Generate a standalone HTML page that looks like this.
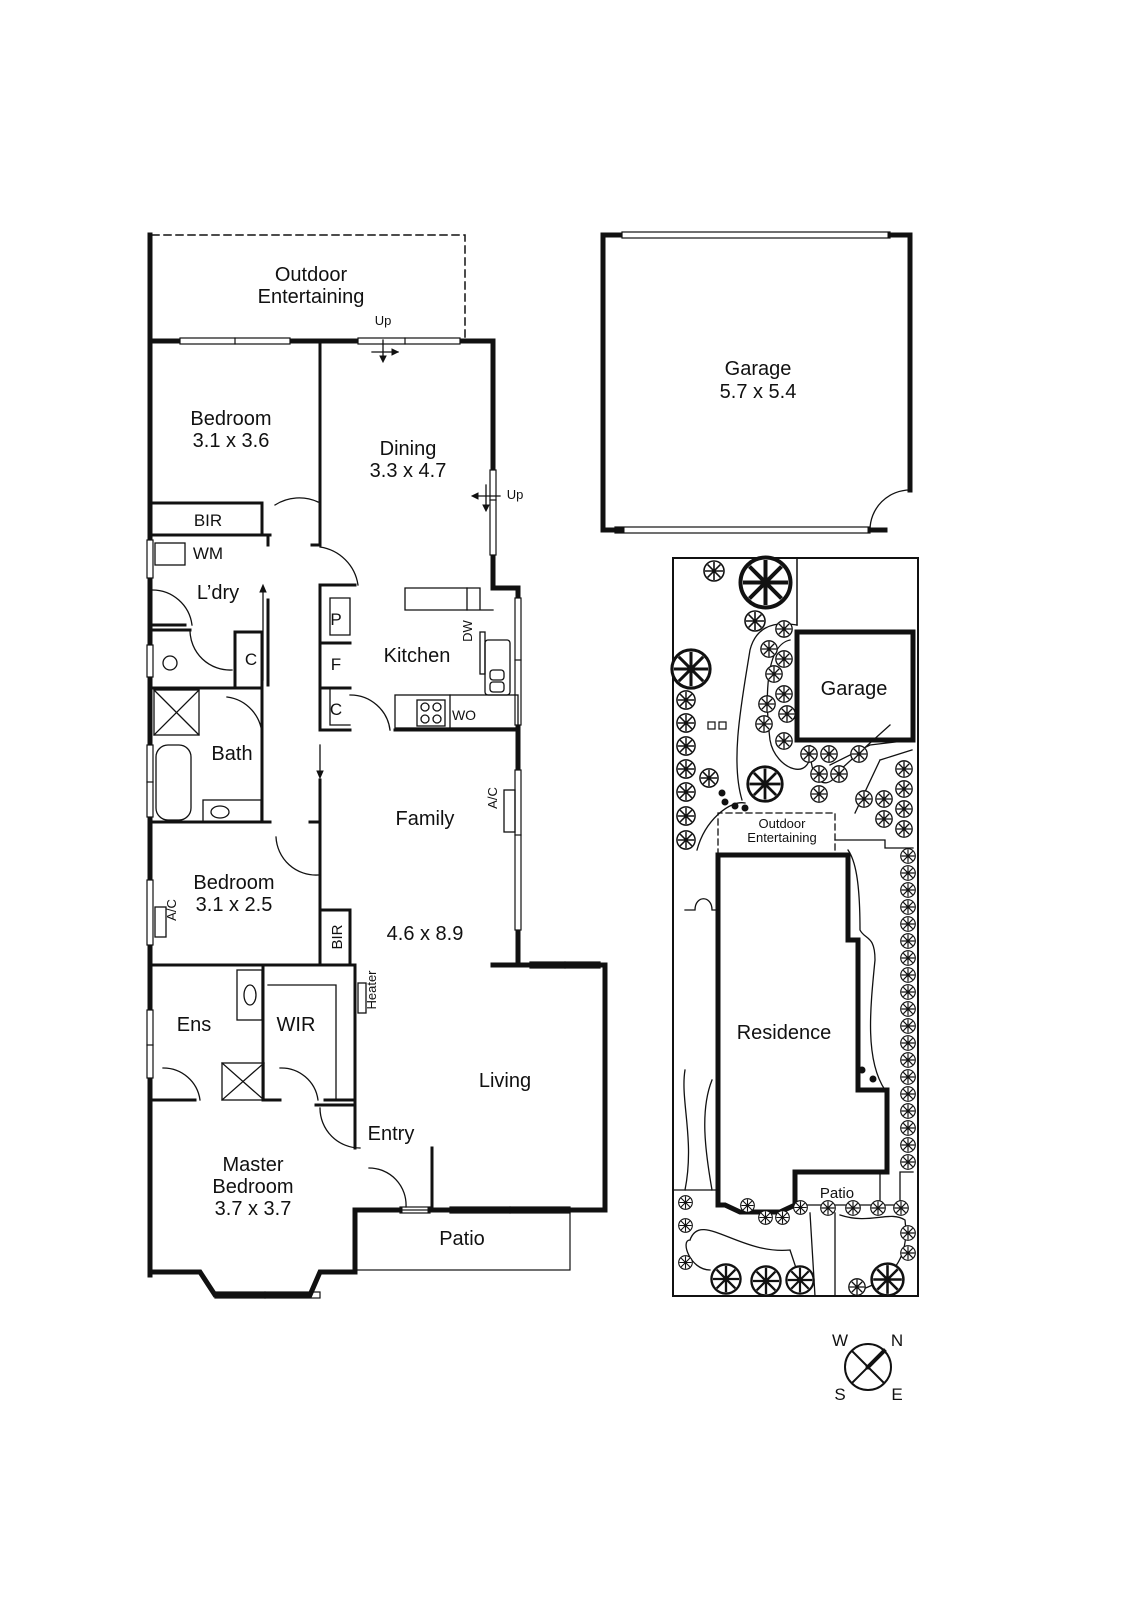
<!DOCTYPE html>
<html><head><meta charset="utf-8"><style>
html,body{margin:0;padding:0;background:#fff;}
svg{display:block}
text{font-family:"Liberation Sans",Arial,sans-serif;fill:#111}
</style></head><body>
<svg width="1131" height="1600" viewBox="0 0 1131 1600" xmlns="http://www.w3.org/2000/svg">
<defs>
<symbol id="t" viewBox="-11 -11 22 22" overflow="visible">
<circle r="10" fill="#fff" stroke="#111" stroke-width="1.6"/>
<path d="M-9 0H9M0-9V9M-6.4-6.4L6.4 6.4M-6.4 6.4L6.4-6.4" stroke="#111" stroke-width="1.6"/>
</symbol>
</defs>
<g fill="none" stroke="#111" stroke-linecap="square">
<!-- outdoor entertaining -->
<line x1="150" y1="235" x2="150" y2="1275" stroke-width="5"/>
<path d="M152 235H465V338" stroke-width="1.5" stroke-dasharray="7,5"/>
<!-- top wall -->
<path d="M150 341H493V588H518V965" stroke-width="5"/>
<!-- windows top -->
<g stroke-width="1.2" fill="#fff">
<rect x="180" y="338" width="110" height="6"/><line x1="235" y1="338" x2="235" y2="344"/>
<rect x="358" y="338" width="102" height="6"/><line x1="405" y1="338" x2="405" y2="344"/>
<rect x="490" y="470" width="6" height="85"/><line x1="490" y1="500" x2="496" y2="500"/>
<rect x="515" y="598" width="6" height="127"/><line x1="515" y1="660" x2="521" y2="660"/>
<rect x="515" y="770" width="6" height="160"/><line x1="515" y1="835" x2="521" y2="835"/>
<rect x="530" y="962" width="70" height="6"/><line x1="565" y1="962" x2="565" y2="968"/>
<rect x="450" y="1207" width="120" height="6"/><line x1="510" y1="1207" x2="510" y2="1213"/>
<rect x="400" y="1207" width="30" height="6"/>
<rect x="147" y="540" width="6" height="38"/>
<rect x="147" y="645" width="6" height="32"/>
<rect x="147" y="745" width="6" height="72"/><line x1="147" y1="782" x2="153" y2="782"/>
<rect x="147" y="880" width="6" height="65"/>
<rect x="147" y="1010" width="6" height="68"/><line x1="147" y1="1045" x2="153" y2="1045"/>
<rect x="215" y="1292" width="105" height="6"/><line x1="265" y1="1292" x2="265" y2="1298"/>
</g>
<!-- living outer -->
<path d="M493 965H605V1210H430" stroke-width="5"/>
<line x1="432" y1="1148" x2="432" y2="1210" stroke-width="3"/>
<path d="M400 1210H355V1272H320L310 1295H215L200 1272H150" stroke-width="5"/>
<rect x="355" y="1210" width="215" height="60" stroke-width="1.2"/>
<!-- interior walls -->
<g stroke-width="3">
<line x1="320" y1="343" x2="320" y2="545"/>
<path d="M152 503H262V535M152 535H270"/>
<line x1="268" y1="535" x2="268" y2="545"/>
<path d="M312 545H320V515"/>
<line x1="268" y1="600" x2="268" y2="685"/>
<path d="M152 625H185M152 630H190M235 688V632H262M262 632V688"/>
<path d="M152 688H262M262 688V700"/>
<path d="M152 822H270M262 688V822"/>
<path d="M310 822H320V780"/>
<line x1="320" y1="585" x2="320" y2="730"/>
<path d="M320 585H355M320 643H350M320 688H350M320 730H350"/>
<path d="M395 730H518"/>
<line x1="320" y1="780" x2="320" y2="965"/>
<path d="M320 910H350V965"/>
<path d="M150 965H355M355 965V1105M263 965V1100M150 1100H195M263 1100H280M325 1100H355M355 1148V1105M316 1105H355"/>
<path d="M493 965H518"/>
</g>
<g stroke-width="1.3">
<path d="M330 598V635H350V598ZM330 688V725H350"/>
<!-- arcs doors -->
<path d="M275 505A45 45 0 0 1 318 502M320 547A45 45 0 0 1 358 585"/>
<path d="M152 590A40 40 0 0 1 192 625M190 630A40 40 0 0 0 232 670"/>
<path d="M227 697A40 40 0 0 1 262 737M276 837A40 40 0 0 0 318 875"/>
<path d="M350 695A40 40 0 0 1 390 730"/>
<path d="M163 1068A37 37 0 0 1 200 1100M280 1068A37 37 0 0 1 318 1100"/>
<path d="M320 1108A40 40 0 0 0 360 1148M369 1168A37 37 0 0 1 406 1207"/>
<path d="M405 588H480V610H405ZM480 610H493"/>
<path d="M467 588V610"/>
<!-- laundry WM -->
<rect x="155" y="543" width="30" height="22"/>
<circle cx="170" cy="663" r="7"/>
<rect x="154" y="690" width="45" height="45"/><path d="M154 690L199 735M199 690L154 735"/>
<rect x="156" y="745" width="35" height="75" rx="12"/>
<rect x="203" y="800" width="58" height="22"/><ellipse cx="220" cy="812" rx="9" ry="6"/>
<rect x="237" y="970" width="25" height="50"/><ellipse cx="250" cy="995" rx="6" ry="10"/>
<rect x="222" y="1063" width="42" height="37"/><path d="M222 1063L264 1100M264 1063L222 1100"/>
<path d="M268 985H336V1100"/>
<rect x="395" y="695" width="123" height="33"/><line x1="450" y1="695" x2="450" y2="728"/>
<rect x="417" y="700" width="28" height="26"/>
<circle cx="425" cy="707" r="4"/><circle cx="437" cy="707" r="4"/><circle cx="425" cy="719" r="4"/><circle cx="437" cy="719" r="4"/>
<rect x="485" y="640" width="25" height="55" rx="3"/>
<rect x="490" y="670" width="14" height="10" rx="3"/><rect x="490" y="682" width="14" height="10" rx="3"/>
<rect x="480" y="632" width="5" height="42"/>
<rect x="504" y="790" width="11" height="42"/>
<rect x="155" y="907" width="11" height="30"/>
<rect x="358" y="983" width="8" height="30"/>
<!-- arrows -->
<path d="M372 352H398M383 340V360M476 496H500M486 485V510M263 588V680M320 745V775"/>
</g>
<g fill="#111">
<path d="M398 352l-6-3v6zM383 362l-3-6h6zM472 496l6-3v6zM486 511l-3-6h6zM263 585l-3 7h6zM320 778l-3-7h6z"/>
</g>
<!-- garage -->
<path d="M620 235H603V530H622M885 530H870M910 490V235H890" stroke-width="5"/>
<rect x="622" y="232" width="268" height="6" stroke-width="1.2"/>
<rect x="615" y="527" width="255" height="6" stroke-width="1.2"/>
<path d="M870 530A40 40 0 0 1 910 490" stroke-width="1.3"/>
<!-- site -->
<rect x="673" y="558" width="245" height="738" stroke-width="2"/>
<path d="M797 558V625M797 632H913V740H797Z" stroke-width="1.5"/>
<rect x="797" y="632" width="116" height="108" stroke-width="5"/>
<path d="M718 855H848V940H858V1090H887V1172H795V1205L780 1212H740L725 1205H718Z" stroke-width="5"/>
<path d="M718 855V813H835V855" stroke-width="1.3" stroke-dasharray="6,4"/>
<g stroke-width="1.3">
<path d="M797 625C770 620 755 630 750 650C742 700 730 760 742 800"/>
<path d="M790 640C765 645 765 700 770 740C775 770 815 785 810 745C810 790 830 790 840 770L890 725M830 765L870 745L912 740"/>
<path d="M745 803C730 800 705 820 697 850M855 813L880 760M880 760L912 750"/>
<path d="M835 840H885V848H913M685 910H695C695 895 712 895 712 910H718"/>
<path d="M848 850C855 860 860 880 860 930C865 940 875 935 875 960C870 1010 865 1060 885 1090"/>
<path d="M685 1070C680 1100 695 1140 685 1190M712 1080C700 1110 705 1150 712 1190"/>
<path d="M673 1190H718M795 1205H900V1172H913M880 1172V1205"/>
<path d="M810 1213L815 1296M835 1213V1296M690 1240C700 1210 740 1255 790 1250L800 1280M710 1270C690 1270 680 1240 690 1240"/>
<path d="M840 1215C870 1225 890 1210 905 1220C910 1260 890 1280 860 1290"/>
</g>
<!-- compass -->
<circle cx="868" cy="1367" r="23" stroke-width="2"/>
<path d="M852 1351L884 1383M852 1383L884 1351" stroke-width="2"/>
<path d="M868 1367L884 1351" stroke-width="4"/>
</g>
<!-- trees -->
<g>
<use href="#t" x="703" y="560" width="22" height="22"/>
<use href="#t" x="738" y="555" width="55" height="55"/>
<use href="#t" x="744" y="610" width="22" height="22"/>
<use href="#t" x="670" y="648" width="42" height="42"/>
<use href="#t" x="676" y="690" width="20" height="20"/>
<use href="#t" x="676" y="713" width="20" height="20"/>
<use href="#t" x="676" y="736" width="20" height="20"/>
<use href="#t" x="676" y="759" width="20" height="20"/>
<use href="#t" x="676" y="782" width="20" height="20"/>
<use href="#t" x="676" y="806" width="20" height="20"/>
<use href="#t" x="676" y="830" width="20" height="20"/>
<use href="#t" x="699" y="768" width="20" height="20"/>
<use href="#t" x="746" y="765" width="38" height="38"/>
<g>
<use href="#t" x="775" y="620" width="18" height="18"/>
<use href="#t" x="760" y="640" width="18" height="18"/>
<use href="#t" x="775" y="650" width="18" height="18"/>
<use href="#t" x="765" y="665" width="18" height="18"/>
<use href="#t" x="775" y="685" width="18" height="18"/>
<use href="#t" x="758" y="695" width="18" height="18"/>
<use href="#t" x="778" y="705" width="18" height="18"/>
<use href="#t" x="755" y="715" width="18" height="18"/>
<use href="#t" x="775" y="732" width="18" height="18"/>
<use href="#t" x="800" y="745" width="18" height="18"/>
<use href="#t" x="820" y="745" width="18" height="18"/>
<use href="#t" x="850" y="745" width="18" height="18"/>
<use href="#t" x="810" y="765" width="18" height="18"/>
<use href="#t" x="830" y="765" width="18" height="18"/>
<use href="#t" x="810" y="785" width="18" height="18"/>
<use href="#t" x="855" y="790" width="18" height="18"/>
<use href="#t" x="875" y="790" width="18" height="18"/>
<use href="#t" x="875" y="810" width="18" height="18"/>
<use href="#t" x="895" y="760" width="18" height="18"/>
<use href="#t" x="895" y="780" width="18" height="18"/>
<use href="#t" x="895" y="800" width="18" height="18"/>
<use href="#t" x="895" y="820" width="18" height="18"/>
</g>
<g>
<use href="#t" x="900" y="848" width="16" height="16"/><use href="#t" x="900" y="865" width="16" height="16"/>
<use href="#t" x="900" y="882" width="16" height="16"/><use href="#t" x="900" y="899" width="16" height="16"/>
<use href="#t" x="900" y="916" width="16" height="16"/><use href="#t" x="900" y="933" width="16" height="16"/>
<use href="#t" x="900" y="950" width="16" height="16"/><use href="#t" x="900" y="967" width="16" height="16"/>
<use href="#t" x="900" y="984" width="16" height="16"/><use href="#t" x="900" y="1001" width="16" height="16"/>
<use href="#t" x="900" y="1018" width="16" height="16"/><use href="#t" x="900" y="1035" width="16" height="16"/>
<use href="#t" x="900" y="1052" width="16" height="16"/><use href="#t" x="900" y="1069" width="16" height="16"/>
<use href="#t" x="900" y="1086" width="16" height="16"/><use href="#t" x="900" y="1103" width="16" height="16"/>
<use href="#t" x="900" y="1120" width="16" height="16"/><use href="#t" x="900" y="1137" width="16" height="16"/>
<use href="#t" x="900" y="1154" width="16" height="16"/>
</g>
<g>
<use href="#t" x="678" y="1195" width="15" height="15"/><use href="#t" x="678" y="1218" width="15" height="15"/>
<use href="#t" x="678" y="1255" width="15" height="15"/>
<use href="#t" x="740" y="1198" width="15" height="15"/><use href="#t" x="758" y="1210" width="15" height="15"/>
<use href="#t" x="775" y="1210" width="15" height="15"/><use href="#t" x="793" y="1200" width="15" height="15"/>
<use href="#t" x="820" y="1200" width="16" height="16"/><use href="#t" x="845" y="1200" width="16" height="16"/>
<use href="#t" x="870" y="1200" width="16" height="16"/><use href="#t" x="893" y="1200" width="16" height="16"/>
<use href="#t" x="900" y="1225" width="16" height="16"/><use href="#t" x="900" y="1245" width="16" height="16"/>
<use href="#t" x="710" y="1263" width="32" height="32"/><use href="#t" x="750" y="1265" width="32" height="32"/>
<use href="#t" x="785" y="1265" width="30" height="30"/><use href="#t" x="870" y="1262" width="35" height="35"/>
<use href="#t" x="848" y="1278" width="18" height="18"/>
</g>
<rect x="708" y="722" width="7" height="7" fill="#fff" stroke="#111" stroke-width="1.2"/>
<rect x="719" y="722" width="7" height="7" fill="#fff" stroke="#111" stroke-width="1.2"/>
<circle cx="725" cy="802" r="3.5" fill="#111"/><circle cx="735" cy="806" r="3.5" fill="#111"/>
<circle cx="745" cy="808" r="3.5" fill="#111"/><circle cx="722" cy="793" r="3.5" fill="#111"/>
<circle cx="862" cy="1070" r="3.5" fill="#111"/><circle cx="873" cy="1079" r="3.5" fill="#111"/>
</g>
<!-- labels -->
<g font-size="20" text-anchor="middle">
<text x="311" y="281">Outdoor</text><text x="311" y="303">Entertaining</text>
<text x="231" y="425">Bedroom</text><text x="231" y="447">3.1 x 3.6</text>
<text x="408" y="455">Dining</text><text x="408" y="477">3.3 x 4.7</text>
<text x="208" y="526" font-size="17">BIR</text>
<text x="208" y="559" font-size="17">WM</text>
<text x="218" y="599">L’dry</text>
<text x="417" y="662">Kitchen</text>
<text x="336" y="625" font-size="17">P</text>
<text x="336" y="670" font-size="17">F</text>
<text x="336" y="715" font-size="17">C</text>
<text x="251" y="665" font-size="17">C</text>
<text x="232" y="760">Bath</text>
<text x="425" y="825">Family</text>
<text x="234" y="889">Bedroom</text><text x="234" y="911">3.1 x 2.5</text>
<text x="425" y="940">4.6 x 8.9</text>
<text x="194" y="1031">Ens</text>
<text x="296" y="1031">WIR</text>
<text x="505" y="1087">Living</text>
<text x="391" y="1140">Entry</text>
<text x="253" y="1171">Master</text><text x="253" y="1193">Bedroom</text><text x="253" y="1215">3.7 x 3.7</text>
<text x="462" y="1245">Patio</text>
<text x="758" y="375">Garage</text><text x="758" y="398">5.7 x 5.4</text>
<text x="854" y="695">Garage</text>
<text x="784" y="1039">Residence</text>
<text x="837" y="1198" font-size="15">Patio</text>
<text x="782" y="828" font-size="13">Outdoor</text><text x="782" y="842" font-size="13">Entertaining</text>
<text x="464" y="720" font-size="14">WO</text>
<text x="383" y="325" font-size="13">Up</text>
<text x="515" y="499" font-size="13">Up</text>
<text x="840" y="1346" font-size="17">W</text><text x="897" y="1346" font-size="17">N</text>
<text x="840" y="1400" font-size="17">S</text><text x="897" y="1400" font-size="17">E</text>
<text font-size="13" transform="translate(472 631) rotate(-90)">DW</text>
<text font-size="13" transform="translate(497 798) rotate(-90)">A/C</text>
<text font-size="13" transform="translate(176 910) rotate(-90)">A/C</text>
<text font-size="15" transform="translate(342 937) rotate(-90)">BIR</text>
<text font-size="13" transform="translate(376 990) rotate(-90)">Heater</text>
</g>
</svg>
</body></html>
